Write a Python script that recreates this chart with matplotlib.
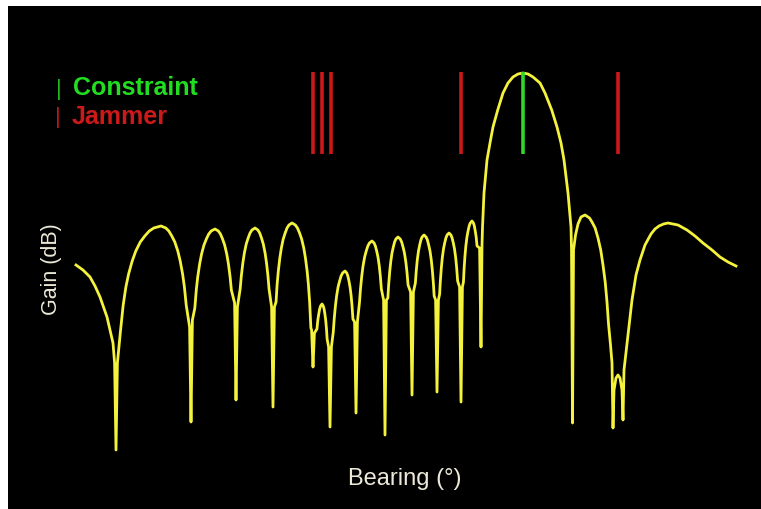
import matplotlib
matplotlib.use("Agg")
import matplotlib.pyplot as plt

# Beam pattern: bearing (deg) and gain (dB, main lobe = 0)
# one line per half lobe, same layout in both lists
bearing = [
    -82.5, -80.75, -79.0, -77.75, -76.5, -74.75, -73.25, -72.85, -72.5,
    -72.15, -71.38, -70.7, -70.03, -69.35, -68.45, -67.55, -66.43, -65.3, -64.18, -63.05, -61.25,
    -60.05, -59.3, -58.55, -57.8, -57.05, -56.45, -55.85, -55.4, -54.95, -54.1, -53.75,
    -53.4, -52.79, -52.43, -52.07, -51.59, -51.11, -50.51, -49.91, -49.31, -48.71, -47.75,
    -46.91, -46.39, -45.86, -45.34, -44.81, -44.39, -43.97, -43.66, -42.85, -42.5,
    -42.15, -41.46, -41.17, -40.79, -40.41, -39.94, -39.46, -38.99, -38.51, -37.75,
    -37.03, -36.58, -36.13, -35.68, -35.23, -34.87, -34.51, -34.24, -33.6, -33.25,
    -32.9, -32.49, -32.21, -31.92, -31.54, -31.16, -30.69, -30.21, -29.74, -29.26, -28.5,
    -27.66, -27.14, -26.61, -26.09, -25.56, -25.14, -24.72, -24.41, -24.09, -23.78, -23.6, -23.25,
    -22.9, -22.26, -22.04, -21.81, -21.59, -21.36, -21.0,
    -20.68, -20.48, -20.28, -20.08, -19.88, -19.72, -19.35, -19.0,
    -18.65, -18.18, -17.95, -17.65, -17.35, -16.98, -16.6, -16.23, -15.85, -15.25,
    -14.81, -14.54, -14.26, -13.99, -13.71, -13.49, -13.27, -12.85, -12.5,
    -12.15, -11.62, -11.38, -11.06, -10.74, -10.34, -9.94, -9.54, -9.14, -8.5,
    -7.98, -7.66, -7.33, -7.01, -6.68, -6.42, -6.16, -5.6, -5.25,
    -4.9, -4.54, -4.34, -4.08, -3.82, -3.5, -3.17, -2.85, -2.52, -2.0,
    -1.44, -1.09, -0.74, -0.39, -0.04, 0.24, 0.52, 1.15, 1.5,
    1.85, 2.34, 2.58, 2.82, 3.12, 3.42, 3.72, 4.02, 4.5,
    5.02, 5.35, 5.67, 6.0, 6.32, 6.58, 6.84, 7.04, 7.4, 7.75,
    8.1, 8.41, 8.59, 8.83, 9.07, 9.37, 9.67, 9.97, 10.27, 10.75,
    11.23, 11.53, 11.83, 12.13, 12.43, 12.67, 12.91, 13.4, 13.75,
    14.1, 14.36, 14.52, 14.74, 14.96, 15.24, 15.51, 15.79, 16.06, 16.5,
    16.86, 17.09, 17.31, 17.54, 17.76, 18.4, 18.75,
    19.0, 19.13, 19.5, 20.25, 21.0, 21.75, 22.93, 24.25, 25.5, 26.75, 28.0, 29.25,
    30.5, 31.75, 33.5, 34.75, 36.43, 37.75, 38.75, 39.5, 40.5, 41.25, 41.38, 41.63,
    41.88, 42.38, 43.0, 43.75, 44.75,
    45.88, 46.5, 47.28, 48.0, 48.68, 49.25, 49.8, 50.25, 50.63, 51.13, 51.5, 51.75,
    52.0, 52.5, 53.0, 53.5, 54.0, 54.25,
    54.5, 55.5, 56.5, 57.5, 58.5, 59.75, 61.25, 62.25, 63.25, 64.4, 65.5,
    68.0, 70.25, 72.25, 74.25, 76.5, 78.5, 80.5, 82.5,
]
gain = [
    -19.2, -19.7, -20.4, -21.3, -22.4, -24.4, -27.0, -29.0, -37.7,
    -29.0, -25.8, -23.2, -21.4, -20.1, -18.8, -17.8, -16.9, -16.3, -15.8, -15.5, -15.3,
    -15.5, -15.8, -16.3, -16.9, -17.8, -18.8, -20.1, -21.4, -23.2, -25.4, -34.9,
    -24.7, -23.5, -21.7, -20.4, -19.1, -18.1, -17.2, -16.6, -16.1, -15.8, -15.6,
    -15.8, -16.1, -16.6, -17.2, -18.1, -19.1, -20.4, -21.7, -23.0, -32.7,
    -23.4, -21.6, -20.3, -19.0, -18.0, -17.1, -16.5, -16.0, -15.7, -15.5,
    -15.7, -16.0, -16.5, -17.1, -18.0, -19.0, -20.3, -21.6, -23.4, -33.4,
    -23.4, -22.9, -21.1, -19.8, -18.5, -17.5, -16.6, -16.0, -15.5, -15.2, -15.0,
    -15.2, -15.5, -16.0, -16.6, -17.5, -18.5, -19.8, -21.1, -22.9, -25.5, -25.7, -29.4,
    -26.0, -25.6, -24.7, -24.1, -23.6, -23.3, -23.1,
    -23.3, -23.6, -24.1, -24.7, -25.6, -26.6, -27.4, -35.4,
    -27.4, -25.9, -24.6, -23.3, -22.3, -21.4, -20.8, -20.3, -20.0, -19.8,
    -20.0, -20.3, -20.8, -21.4, -22.3, -23.3, -24.6, -24.9, -34.0,
    -24.9, -22.9, -21.6, -20.3, -19.3, -18.4, -17.8, -17.3, -17.0, -16.8,
    -17.0, -17.3, -17.8, -18.4, -19.3, -20.3, -21.6, -22.7, -36.2,
    -22.7, -22.5, -21.2, -19.9, -18.9, -18.0, -17.4, -16.9, -16.6, -16.4,
    -16.6, -16.9, -17.4, -18.0, -18.9, -19.9, -21.2, -21.9, -32.2,
    -21.9, -21.0, -19.7, -18.7, -17.8, -17.2, -16.7, -16.4, -16.2,
    -16.4, -16.7, -17.2, -17.8, -18.7, -19.7, -21.0, -22.3, -22.7, -31.9,
    -22.7, -22.1, -20.8, -19.5, -18.5, -17.6, -17.0, -16.5, -16.2, -16.0,
    -16.2, -16.5, -17.0, -17.6, -18.5, -19.5, -20.8, -21.4, -32.9,
    -21.4, -20.9, -19.6, -18.3, -17.3, -16.4, -15.8, -15.3, -15.0, -14.8,
    -15.0, -15.3, -15.8, -16.4, -17.3, -17.5, -27.4,
    -17.2, -15.4, -12.0, -8.7, -7.0, -5.4, -3.7, -2.0, -1.0, -0.4, -0.1, 0.0,
    -0.1, -0.4, -1.0, -2.0, -3.7, -5.4, -7.0, -8.7, -12.0, -15.4, -17.7, -35.0,
    -17.7, -16.2, -15.1, -14.4, -14.2,
    -14.5, -14.9, -15.5, -16.5, -17.7, -19.2, -20.9, -22.9, -25.1, -27.2, -29.0, -35.5,
    -31.7, -30.5, -30.2, -30.5, -31.7, -34.7,
    -29.7, -26.2, -22.7, -20.2, -18.7, -17.2, -16.1, -15.6, -15.3, -15.1, -15.0,
    -15.2, -15.7, -16.3, -17.0, -17.7, -18.4, -18.9, -19.3,
]

jammers = [-23.25, -21.0, -18.75, 13.75, 53.0]
constraint = [29.25]
marker_top = 0.1
marker_bottom = -8.1

fig = plt.figure(figsize=(7.61, 5.09), dpi=100, facecolor="white")
ax = fig.add_axes([8 / 761, 0, 753 / 761, 503 / 509])
ax.set_facecolor("black")
ax.set_xticks([])
ax.set_yticks([])
for s in ax.spines.values():
    s.set_visible(False)
ax.set_xlim(-99.5, 88.75)
ax.set_ylim(-43.6, 6.7)

ax.plot(bearing, gain, color="#f4f23c", lw=2.0, solid_joinstyle="round")
ax.vlines(jammers, marker_bottom, marker_top, color="#cc1818", lw=2.6)
ax.vlines(constraint, marker_bottom, marker_top, color="#2ed62e", lw=2.6)

# legend drawn as text, like the original slide
font = "Liberation Sans"
fig.text(59 / 761, 1 - 89 / 509, "|", color="#22b822", fontsize=16, family=font, ha="center", va="center")
fig.text(73 / 761, 1 - 88 / 509, "Constraint", color="#22dd22", fontsize=18, family=font,
         fontweight="bold", ha="left", va="center")
fig.text(58 / 761, 1 - 118 / 509, "|", color="#b81818", fontsize=16, family=font, ha="center", va="center")
fig.text(72 / 761, 1 - 117 / 509, "Jammer", color="#cc1a1a", fontsize=18, family=font,
         fontweight="bold", ha="left", va="center")

fig.text(52 / 761, 1 - 269 / 509, "Gain (dB)", color="#ece9d8", fontsize=15.5, family=font,
         rotation=90, ha="center", va="center")
fig.text(405 / 761, 1 - 479 / 509, "Bearing (°)", color="#ece9d8", fontsize=17, family=font,
         ha="center", va="center")

fig.savefig("out.png", dpi=100, facecolor="white")
